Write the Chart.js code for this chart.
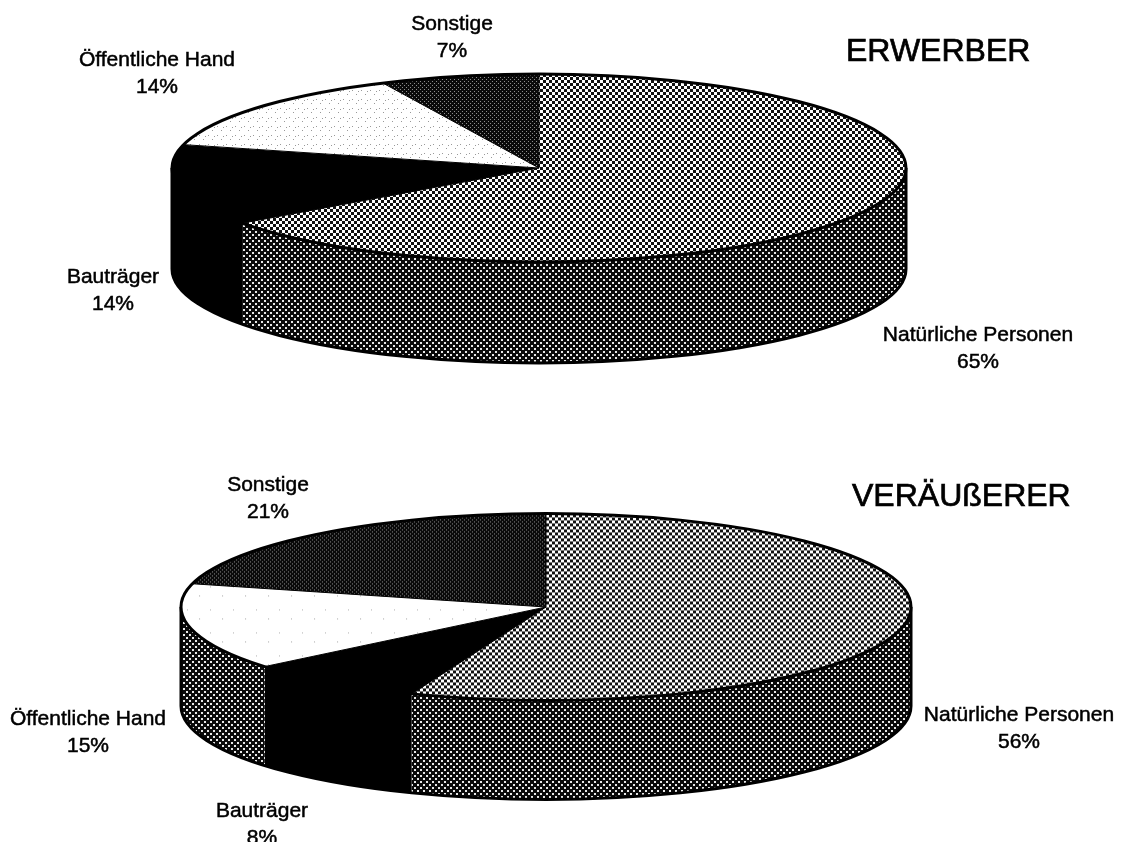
<!DOCTYPE html>
<html lang="de">
<head>
<meta charset="utf-8">
<title>Erwerber und Veräußerer</title>
<script src="https://cdn.jsdelivr.net/npm/chart.js@4/dist/chart.umd.js"></script>
<style>
  html, body { margin: 0; padding: 0; background: #fff; }
  #page { position: relative; width: 1121px; height: 842px; overflow: hidden; }
  canvas { position: absolute; left: 0; }
</style>
</head>
<body>
<div id="page">
  <canvas id="erwerber" width="1121" height="421" style="top:0"></canvas>
  <canvas id="veraeusserer" width="1121" height="421" style="top:421px"></canvas>
</div>
<script>
const categories = ['Natürliche Personen', 'Bauträger', 'Öffentliche Hand', 'Sonstige'];
const erwerberValues = [65, 14, 14, 7];
const veraeussererValues = [56, 8, 15, 21];

const TILT = 0.256;

// halftone tiles; yScale undoes the squash on the top faces
function tile(size, bg, fg, dots, yScale) {
  const c = document.createElement('canvas');
  c.width = c.height = size;
  const g = c.getContext('2d');
  g.fillStyle = bg;
  g.fillRect(0, 0, size, size);
  g.fillStyle = fg;
  dots.forEach(d => g.fillRect(d[0], d[1], d[2], d[2]));
  const p = g.createPattern(c, 'repeat');
  p.setTransform(new DOMMatrix().scale(1, yScale));
  return p;
}

const checker = tile(6, '#fff', '#111', [[0, 0, 3], [3, 3, 3]], 1 / TILT);
const darkDots = tile(4, '#0a0a0a', '#8c8c8c', [[0, 0, 1], [2, 2, 1]], 1 / TILT);
const fineSpeck = tile(9, '#fff', '#999', [[1, 1, 1], [5, 5, 1], [7, 2, 1]], 1 / TILT);
const thinSpeck = tile(23, '#fff', '#aaa', [[3, 4, 1], [15, 13, 1]], 1 / TILT);
const wallDots = tile(6, '#0a0a0a', '#e8e8e8', [[0, 0, 2], [3, 3, 2]], 1);

// side wall, top-face transform and outlines for the flat pie
const tiltedPie = {
  id: 'tiltedPie',
  beforeDatasetDraw(chart, args, opts) {
    const ctx = chart.ctx;
    const arcs = args.meta.data;
    const { x, y, outerRadius: rx } = arcs[0];
    const ry = rx * TILT;

    ctx.save();
    arcs.forEach((arc, i) => {
      const from = Math.max(arc.startAngle, 0);
      const to = Math.min(arc.endAngle, Math.PI);
      if (from >= to) return;
      ctx.beginPath();
      ctx.ellipse(x, y, rx, ry, 0, from, to);
      ctx.ellipse(x, y + opts.depth, rx, ry, 0, to, from, true);
      ctx.closePath();
      ctx.fillStyle = opts.walls[i];
      ctx.fill();
    });
    ctx.strokeStyle = '#000';
    ctx.lineWidth = 3;
    ctx.beginPath();
    ctx.ellipse(x, y + opts.depth, rx, ry, 0, 0, Math.PI);
    ctx.moveTo(x + rx, y);
    ctx.lineTo(x + rx, y + opts.depth);
    ctx.moveTo(x - rx, y);
    ctx.lineTo(x - rx, y + opts.depth);
    ctx.stroke();
    ctx.restore();

    ctx.save();
    ctx.translate(x, y);
    ctx.scale(1, TILT);
    ctx.translate(-x, -y);
  },
  afterDatasetDraw(chart, args) {
    const ctx = chart.ctx;
    ctx.restore();
    const arcs = args.meta.data;
    const { x, y, outerRadius: rx } = arcs[0];
    const ry = rx * TILT;

    ctx.save();
    ctx.strokeStyle = '#000';
    ctx.lineWidth = 1;
    arcs.forEach(arc => {
      ctx.beginPath();
      ctx.moveTo(x, y);
      ctx.lineTo(x + rx * Math.cos(arc.startAngle), y + ry * Math.sin(arc.startAngle));
      ctx.stroke();
    });
    ctx.lineWidth = 3;
    ctx.beginPath();
    ctx.ellipse(x, y, rx, ry, 0, 0, Math.PI * 2);
    ctx.stroke();
    ctx.restore();
  }
};

// slice captions and the heading
const captions = {
  id: 'captions',
  afterDraw(chart, args, opts) {
    const ctx = chart.ctx;
    const values = chart.data.datasets[0].data;
    const put = (text, px, py) => {
      ctx.fillText(text, px, py);
      ctx.strokeText(text, px, py);
    };
    ctx.save();
    ctx.fillStyle = '#000';
    ctx.strokeStyle = '#000';
    ctx.lineWidth = 0.5;
    ctx.textAlign = 'center';
    ctx.textBaseline = 'middle';
    ctx.font = '21px "Liberation Sans", Arial, sans-serif';
    chart.data.labels.forEach((name, i) => {
      const [px, py] = opts.spots[i];
      put(name, px, py);
      put(values[i] + '%', px, py + 27);
    });
    ctx.textAlign = 'left';
    ctx.lineWidth = 0.7;
    ctx.font = '32px "Liberation Sans", Arial, sans-serif';
    put(opts.heading, opts.headingAt[0], opts.headingAt[1]);
    ctx.restore();
  }
};

function drawPie(id, values, fills, walls, centerX, centerY, radius, depth, heading, headingAt, spots) {
  return new Chart(document.getElementById(id), {
    type: 'pie',
    data: {
      labels: categories,
      datasets: [{
        data: values,
        backgroundColor: fills,
        borderWidth: 0,
        radius: radius,
        clip: false
      }]
    },
    options: {
      responsive: false,
      animation: false,
      events: [],
      layout: {
        padding: { left: 0, top: 0, right: 1121 - centerX * 2, bottom: 421 - centerY * 2 }
      },
      plugins: {
        legend: { display: false },
        tooltip: { enabled: false },
        tiltedPie: { walls: walls, depth: depth },
        captions: { heading: heading, headingAt: headingAt, spots: spots }
      }
    },
    plugins: [tiltedPie, captions]
  });
}

drawPie('erwerber', erwerberValues,
  [checker, '#000', fineSpeck, darkDots],
  [wallDots, '#000', wallDots, '#000'],
  539, 168, 367, 101,
  'ERWERBER', [846, 52],
  [[978, 335], [113, 277], [157, 60], [452, 24]]);

drawPie('veraeusserer', veraeussererValues,
  [checker, '#000', thinSpeck, darkDots],
  [wallDots, '#000', wallDots, '#000'],
  546, 186, 365, 99,
  'VERÄUßERER', [852, 76],
  [[1019, 294], [262, 390], [88, 298], [268, 64]]);
</script>
</body>
</html>
